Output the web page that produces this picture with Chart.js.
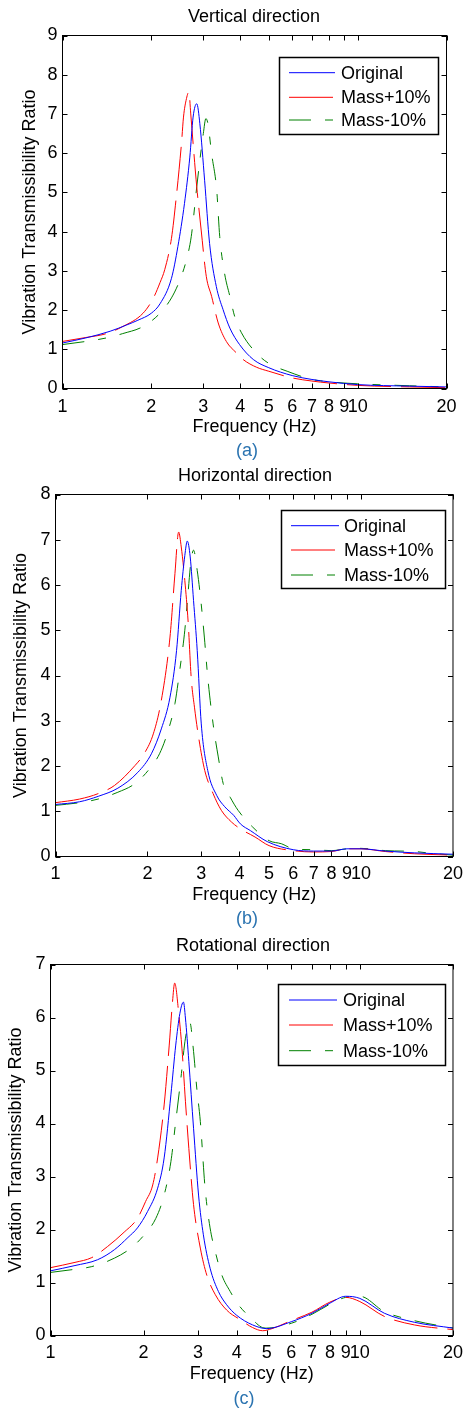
<!DOCTYPE html>
<html lang="en">
<head>
<meta charset="UTF-8">
<title>Vibration Transmissibility Ratio</title>
<script src="https://cdn.jsdelivr.net/npm/chart.js@4.4.0/dist/chart.umd.min.js"></script>
<style>
  body { margin: 0; background: #fff; font-family: "Liberation Sans", Arial, sans-serif; }
  #page { position: relative; width: 470px; height: 1409px; overflow: hidden; }
  .panel { position: absolute; left: 0; }
  .lbl { position: absolute; font-size: 18px; line-height: 20px; white-space: nowrap; transform: translateX(-50%); color: #000; }
  .sub { color: #2a73b0; }
</style>
</head>
<body>
<div id="page">
  <canvas id="chartA" class="panel" style="top:0px" width="470" height="470"></canvas>
  <canvas id="chartB" class="panel" style="top:470px" width="470" height="470"></canvas>
  <canvas id="chartC" class="panel" style="top:940px" width="470" height="469"></canvas>

  <div class="lbl" style="left:254px; top:6px">Vertical direction</div>
  <div class="lbl sub" style="left:247px; top:440px">(a)</div>
  <div class="lbl" style="left:255px; top:465px">Horizontal direction</div>
  <div class="lbl sub" style="left:247px; top:908px">(b)</div>
  <div class="lbl" style="left:253px; top:935px">Rotational direction</div>
  <div class="lbl sub" style="left:244px; top:1388px">(c)</div>
</div>

<script>
    // tick labels on the log frequency axis
    var xTicks = [1, 2, 3, 4, 5, 6, 7, 8, 9, 10, 20];

    // (a) vertical direction
    var vertOrigHz  = [1, 1.2, 1.45, 1.65, 1.8, 2.0, 2.14, 2.34, 2.46, 2.59, 2.70, 2.77, 2.85, 2.92, 3.03, 3.15, 3.32, 3.50, 3.69, 3.98, 4.43, 5, 6, 7, 8, 10, 15, 20];
    var vertOrig    = [1.16, 1.29, 1.46, 1.62, 1.74, 1.92, 2.16, 2.81, 3.62, 4.72, 5.9, 6.92, 7.26, 6.75, 5.31, 3.70, 2.60, 2.01, 1.54, 1.12, 0.74, 0.53, 0.33, 0.23, 0.17, 0.10, 0.06, 0.04];
    var vertPlusHz  = [1, 1.2, 1.41, 1.60, 1.875, 2.03, 2.14, 2.22, 2.34, 2.43, 2.53, 2.57, 2.63, 2.68, 2.72, 2.77, 2.85, 2.95, 3.07, 3.20, 3.37, 3.59, 3.88, 4.09, 4.55, 5, 6, 7, 8, 10, 15, 20];
    var vertPlus    = [1.20, 1.30, 1.40, 1.58, 1.92, 2.30, 2.70, 3.03, 3.83, 4.89, 6.25, 6.92, 7.39, 7.56, 7.0, 6.25, 5.14, 4.04, 2.86, 2.35, 1.67, 1.2, 0.91, 0.74, 0.54, 0.44, 0.27, 0.19, 0.14, 0.08, 0.04, 0.02];
    var vertMinusHz = [1, 1.2, 1.41, 1.60, 1.875, 2.14, 2.34, 2.50, 2.63, 2.73, 2.85, 2.92, 3.0, 3.06, 3.11, 3.20, 3.33, 3.41, 3.54, 3.69, 3.83, 4.04, 4.53, 5, 5.77, 7, 8, 10, 15, 20];
    var vertMinus   = [1.12, 1.20, 1.29, 1.40, 1.58, 1.92, 2.31, 2.77, 3.28, 3.87, 5.14, 5.82, 6.5, 6.88, 6.75, 5.99, 5.06, 3.87, 2.94, 2.35, 1.84, 1.42, 0.91, 0.64, 0.44, 0.23, 0.17, 0.12, 0.07, 0.04];

    // (b) horizontal direction
    var horOrigHz  = [1, 1.2, 1.38, 1.60, 1.86, 2.06, 2.22, 2.37, 2.49, 2.58, 2.65, 2.70, 2.76, 2.83, 2.91, 3.0, 3.15, 3.37, 3.58, 3.83, 4.03, 4.35, 4.93, 6, 7, 8, 9, 10, 12, 15, 20];
    var horOrig    = [1.15, 1.21, 1.33, 1.51, 1.86, 2.27, 2.82, 3.52, 4.55, 5.88, 6.65, 6.97, 6.62, 5.66, 4.55, 2.93, 1.90, 1.35, 1.10, 0.91, 0.72, 0.57, 0.33, 0.15, 0.12, 0.12, 0.17, 0.17, 0.12, 0.08, 0.05];
    var horPlusHz  = [1, 1.2, 1.38, 1.56, 1.82, 1.95, 2.09, 2.22, 2.37, 2.46, 2.53, 2.58, 2.65, 2.72, 2.78, 2.85, 2.94, 3.08, 3.28, 3.49, 3.77, 4.03, 4.5, 5, 6, 7, 8, 9, 10, 12, 15, 20];
    var horPlus    = [1.19, 1.27, 1.39, 1.57, 2.01, 2.27, 2.71, 3.45, 4.85, 6.25, 7.17, 6.84, 6.1, 5.14, 3.96, 3.30, 2.64, 1.90, 1.39, 1.02, 0.76, 0.61, 0.43, 0.24, 0.13, 0.10, 0.11, 0.17, 0.17, 0.11, 0.06, 0.03];
    var horMinusHz = [1, 1.2, 1.38, 1.60, 1.82, 2.01, 2.19, 2.34, 2.46, 2.55, 2.65, 2.72, 2.77, 2.83, 2.91, 2.99, 3.07, 3.15, 3.28, 3.41, 3.54, 3.73, 3.96, 4.42, 5, 5.5, 6, 7, 8, 9, 10, 12, 15, 17, 20];
    var horMinus   = [1.13, 1.19, 1.27, 1.42, 1.61, 1.90, 2.27, 2.79, 3.38, 4.11, 5.0, 5.88, 6.47, 6.77, 6.32, 5.66, 4.85, 3.96, 2.93, 2.20, 1.61, 1.31, 1.02, 0.65, 0.35, 0.28, 0.17, 0.15, 0.13, 0.17, 0.18, 0.13, 0.11, 0.07, 0.03];

    // (c) rotational direction
    var rotOrigHz  = [1, 1.2, 1.42, 1.61, 1.78, 1.91, 2.06, 2.22, 2.33, 2.45, 2.54, 2.62, 2.69, 2.73, 2.80, 2.90, 3.01, 3.12, 3.28, 3.49, 3.71, 4.0, 4.5, 5, 6, 7, 8, 9, 10, 12, 15, 20];
    var rotOrig    = [1.22, 1.32, 1.43, 1.62, 1.85, 2.03, 2.34, 2.78, 3.35, 4.54, 5.48, 6.08, 6.29, 5.99, 5.17, 3.91, 2.65, 1.90, 1.27, 0.83, 0.58, 0.38, 0.20, 0.13, 0.26, 0.42, 0.61, 0.74, 0.70, 0.42, 0.25, 0.14];
    var rotPlusHz  = [1, 1.2, 1.36, 1.53, 1.73, 1.91, 2.03, 2.14, 2.22, 2.33, 2.42, 2.48, 2.52, 2.60, 2.66, 2.73, 2.80, 2.90, 3.05, 3.20, 3.41, 3.71, 4.10, 4.5, 4.85, 5.2, 6, 7, 8, 9, 10, 12, 15, 20];
    var rotPlus    = [1.28, 1.38, 1.47, 1.68, 1.95, 2.21, 2.53, 2.84, 3.35, 4.35, 5.48, 6.30, 6.65, 6.05, 5.42, 4.42, 3.53, 2.47, 1.65, 1.14, 0.77, 0.48, 0.30, 0.15, 0.09, 0.13, 0.28, 0.44, 0.63, 0.72, 0.64, 0.36, 0.20, 0.11];
    var rotMinusHz = [1, 1.2, 1.36, 1.61, 1.82, 2.01, 2.19, 2.33, 2.45, 2.54, 2.64, 2.73, 2.82, 2.90, 2.97, 3.05, 3.16, 3.28, 3.41, 3.58, 3.81, 4.05, 4.5, 4.8, 5, 6, 7, 8, 9, 10, 12, 15, 20];
    var rotMinus   = [1.19, 1.25, 1.30, 1.46, 1.65, 1.90, 2.21, 2.65, 3.28, 4.04, 4.86, 5.61, 5.91, 5.36, 4.67, 4.04, 2.78, 2.03, 1.58, 1.14, 0.83, 0.58, 0.30, 0.16, 0.14, 0.23, 0.40, 0.59, 0.72, 0.74, 0.45, 0.28, 0.14];

    Chart.defaults.font.family = '"Liberation Sans", Arial, sans-serif';
    Chart.defaults.color = '#000';

    function toPoints(hz, vals) {
        return hz.map(function (f, i) { return { x: f, y: vals[i] }; });
    }

    function series(label, hz, vals, color, dash) {
        return {
            label: label,
            data: toPoints(hz, vals),
            borderColor: color,
            borderWidth: 1,
            borderDash: dash,
            pointRadius: 0,
            fill: false,
            cubicInterpolationMode: 'monotone'
        };
    }

    // box round the axes, MATLAB style inward ticks, and the boxed legend
    function framePlugin(lg) {
        return {
            id: 'frame',
            afterDraw: function (chart) {
                var ctx = chart.ctx, a = chart.chartArea;
                var xs = chart.scales.x, ys = chart.scales.y;
                ctx.save();
                ctx.strokeStyle = '#000';
                ctx.lineWidth = 1;
                ctx.strokeRect(a.left, a.top, a.right - a.left, a.bottom - a.top);
                ctx.beginPath();
                xs.ticks.forEach(function (t) {
                    var px = Math.round(xs.getPixelForValue(t.value)) + 0.5;
                    ctx.moveTo(px, a.bottom); ctx.lineTo(px, a.bottom - 5);
                    ctx.moveTo(px, a.top); ctx.lineTo(px, a.top + 5);
                });
                ys.ticks.forEach(function (t) {
                    var py = Math.round(ys.getPixelForValue(t.value)) + 0.5;
                    ctx.moveTo(a.left, py); ctx.lineTo(a.left + 5, py);
                    ctx.moveTo(a.right, py); ctx.lineTo(a.right - 5, py);
                });
                ctx.stroke();

                // legend
                ctx.fillStyle = '#fff';
                ctx.fillRect(lg.left, lg.top, lg.width, lg.height);
                ctx.lineWidth = 1.5;
                ctx.strokeRect(lg.left, lg.top, lg.width, lg.height);
                ctx.font = '18px "Liberation Sans", Arial, sans-serif';
                ctx.textBaseline = 'middle';
                chart.data.datasets.forEach(function (ds, i) {
                    var yy = lg.rows[i];
                    ctx.beginPath();
                    ctx.lineWidth = 1;
                    ctx.strokeStyle = ds.borderColor;
                    ctx.setLineDash(ds.borderDash);
                    ctx.moveTo(lg.lineX1, yy);
                    ctx.lineTo(lg.lineX2, yy);
                    ctx.stroke();
                    ctx.setLineDash([]);
                    ctx.fillStyle = '#000';
                    ctx.fillText(ds.label, lg.textX, yy + 1);
                });
                ctx.restore();
            }
        };
    }

    function buildPanel(id, p) {
        new Chart(document.getElementById(id), {
            type: 'line',
            data: {
                datasets: [
                    series('Original', p.origHz, p.orig, '#0000ff', []),
                    series('Mass+10%', p.plusHz, p.plus, '#ff0000', [44, 10]),
                    series('Mass-10%', p.minusHz, p.minus, '#008000', [22, 14, 8, 14])
                ]
            },
            options: {
                responsive: false,
                animation: false,
                layout: { padding: { left: 0, top: p.area.top, right: p.width - p.area.right, bottom: 0 } },
                plugins: { legend: { display: false }, tooltip: { enabled: false } },
                scales: {
                    x: {
                        type: 'logarithmic',
                        min: 1,
                        max: 20,
                        afterBuildTicks: function (s) { s.ticks = xTicks.map(function (v) { return { value: v }; }); },
                        afterFit: function (s) { s.height = p.height - p.area.bottom; },
                        ticks: {
                            autoSkip: false, maxRotation: 0, minRotation: 0, padding: p.xTickPad,
                            color: '#000', font: { size: 18 },
                            callback: function (v) { return String(v); }
                        },
                        grid: { display: false, drawTicks: false },
                        border: { display: false },
                        title: { display: true, text: 'Frequency (Hz)', color: '#000', font: { size: 18 }, padding: { top: 0, bottom: p.xTitlePad } }
                    },
                    y: {
                        min: 0,
                        max: p.yMax,
                        afterFit: function (s) { s.width = p.area.left; },
                        ticks: { stepSize: 1, padding: 5, color: '#000', font: { size: 18 } },
                        grid: { display: false, drawTicks: false },
                        border: { display: false },
                        title: { display: true, text: 'Vibration Transmissibility Ratio', color: '#000', font: { size: 18 }, padding: { top: p.yTitlePad, bottom: 0 } }
                    }
                }
            },
            plugins: [framePlugin(p.legend)]
        });
    }

    buildPanel('chartA', {
        width: 470, height: 470, yMax: 9,
        area: { left: 62.5, top: 35.5, right: 446.5, bottom: 388.5 },
        xTitlePad: 32, yTitlePad: 19, xTickPad: 8,
        origHz: vertOrigHz, orig: vertOrig, plusHz: vertPlusHz, plus: vertPlus, minusHz: vertMinusHz, minus: vertMinus,
        legend: { left: 279.5, top: 57.5, width: 159, height: 77, lineX1: 289, lineX2: 335, textX: 341, rows: [72.7, 97.3, 120] }
    });

    buildPanel('chartB', {
        width: 470, height: 470, yMax: 8,
        area: { left: 55.5, top: 24.5, right: 454.5, bottom: 386.5 },
        xTitlePad: 34, yTitlePad: 10, xTickPad: 7,
        origHz: horOrigHz, orig: horOrig, plusHz: horPlusHz, plus: horPlus, minusHz: horMinusHz, minus: horMinus,
        legend: { left: 281.5, top: 40.5, width: 164, height: 78, lineX1: 291, lineX2: 339, textX: 344, rows: [55.7, 80, 105] }
    });

    buildPanel('chartC', {
        width: 470, height: 469, yMax: 7,
        area: { left: 50.5, top: 24.5, right: 454.5, bottom: 395.5 },
        xTitlePad: 24, yTitlePad: 5, xTickPad: 7,
        origHz: rotOrigHz, orig: rotOrig, plusHz: rotPlusHz, plus: rotPlus, minusHz: rotMinusHz, minus: rotMinus,
        legend: { left: 278.5, top: 44.5, width: 167, height: 81, lineX1: 289, lineX2: 337, textX: 343, rows: [60, 85, 110.7] }
    });
</script>
</body>
</html>
